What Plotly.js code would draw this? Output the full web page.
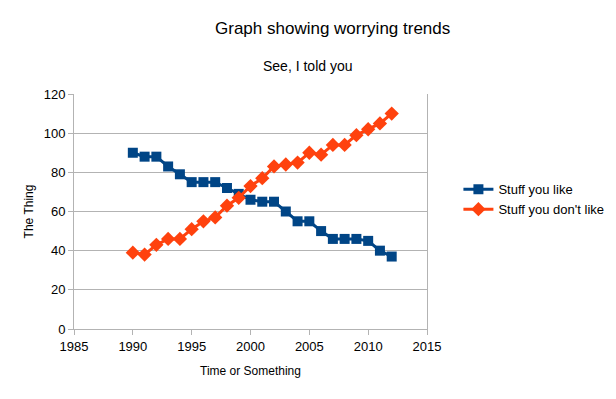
<!DOCTYPE html>
<html><head><meta charset="utf-8">
<script src="https://cdn.plot.ly/plotly-3.0.1.min.js"></script>
<style>body{margin:0;padding:0;background:#fff}#chart{width:616px;height:399px}</style>
</head><body><div id="chart"></div>
<script>
const years = [1990,1991,1992,1993,1994,1995,1996,1997,1998,1999,2000,2001,2002,2003,2004,2005,2006,2007,2008,2009,2010,2011,2012];
const stuffYouLike = [90,88,88,83,79,75,75,75,72,69,66,65,65,60,55,55,50,46,46,46,45,40,37];
const stuffYouDontLike = [39,38,43,46,46,51,55,57,63,67,73,77,83,84,85,90,89,94,94,99,102,105,110];
const xTicks = [1985,1990,1995,2000,2005,2010,2015];
const yTicks = [0,20,40,60,80,100,120];

const font = 'Liberation Sans, Arial, sans-serif';
const traces = [
  {x: years, y: stuffYouLike, name: 'Stuff you like', type: 'scatter', mode: 'lines+markers',
   line: {color: '#004586', width: 3}, marker: {symbol: 'square', size: 10, color: '#004586'}},
  {x: years, y: stuffYouDontLike, name: "Stuff you don't like", type: 'scatter', mode: 'lines+markers',
   line: {color: '#ff420e', width: 3}, marker: {symbol: 'diamond', size: 11, color: '#ff420e'}}
];
const layout = {
  width: 616, height: 399,
  margin: {l: 74, r: 189, t: 94, b: 70, autoexpand: false},
  paper_bgcolor: '#fff', plot_bgcolor: '#fff',
  font: {family: font, color: '#000', size: 13},
  showlegend: true,
  legend: {x: 1.089, y: 0.552, xanchor: 'left', yanchor: 'middle', font: {family: font, size: 13, color: '#000'}, tracegroupgap: 4},
  xaxis: {range: [1985, 2015], tickvals: xTicks, ticktext: xTicks.map(String), showgrid: false, zeroline: false,
          showline: true, linecolor: '#b3b3b3', linewidth: 1, ticks: 'outside', ticklen: 5, tickcolor: '#b3b3b3',
          tickfont: {family: font, size: 13}, mirror: false,
          title: {text: 'Time or Something', font: {family: font, size: 12}, standoff: 14}},
  yaxis: {range: [0, 120], tickvals: yTicks, ticktext: yTicks.map(String), showgrid: true, gridcolor: '#b3b3b3', zeroline: false,
          showline: true, linecolor: '#b3b3b3', linewidth: 1, ticks: 'outside', ticklen: 5, tickcolor: '#b3b3b3', mirror: true,
          tickfont: {family: font, size: 13},
          title: {text: 'The Thing', font: {family: font, size: 12}, standoff: 7}},
  annotations: [
    {text: 'Graph showing worrying trends', xref: 'paper', yref: 'paper', x: (332-74)/353, y: 1 + (94-29)/235,
     xanchor: 'center', yanchor: 'middle', showarrow: false, font: {family: font, size: 17, color: '#000'}},
    {text: 'See, I told you', xref: 'paper', yref: 'paper', x: (308-74)/353, y: 1 + (94-66)/235,
     xanchor: 'center', yanchor: 'middle', showarrow: false, font: {family: font, size: 14, color: '#000'}}
  ]
};
Plotly.newPlot('chart', traces, layout, {displayModeBar: false, staticPlot: true});
</script></body></html>
